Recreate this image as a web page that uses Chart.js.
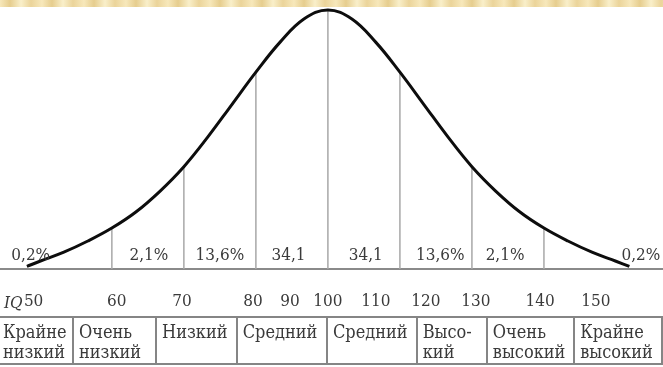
<!DOCTYPE html>
<html>
<head>
<meta charset="utf-8">
<script src="https://cdn.jsdelivr.net/npm/chart.js@4"></script>
<style>
  body { margin: 0; background: #fff; }
  #wrap { position: relative; width: 663px; height: 367px; overflow: hidden; }
  #band {
    position: absolute; left: 0; top: 0; width: 663px; height: 7px; z-index: 2;
    background: repeating-linear-gradient(90deg, #f7e8bb 0px, #e6cd8e 10px, #f9efca 21px, #ebd49a 31px, #f7e8bb 42px);
  }
  canvas { position: absolute; left: 0; top: 0; }
</style>
</head>
<body>
<div id="wrap">
  <div id="band"></div>
  <canvas id="chart" width="663" height="367"></canvas>
</div>
<script>
// Curve: IQ value and height (% of the peak)
const curveX = [37.3, 40, 45, 50, 55, 60, 65, 70, 75, 80, 85, 90, 95, 100,
  105, 110, 115, 120, 125, 130, 135, 140, 145, 150, 155, 160, 162.8];
const curveY = [1, 3, 6.5, 10.8, 15.8, 22, 30, 39.5, 51, 63.5, 76, 87.5, 96.5, 100,
  96.5, 87.5, 76, 63.5, 51, 39.5, 30, 22, 15.8, 10.8, 6.5, 3, 1];

// Vertical dividers under the curve (sigma steps)
const dividerX = [55, 70, 85, 100, 115, 130, 145];
const dividerTop = [15.8, 39.5, 76, 100, 76, 39.5, 15.8];

// Share of population in each band
const shareLabels = ['0,2%', '2,1%', '13,6%', '34,1', '34,1', '13,6%', '2,1%', '0,2%'];
const shareAt = [38.1, 62.7, 77.5, 91.8, 107.9, 123.4, 136.9, 165.2];

// IQ tick labels (placed as in the picture)
const tickLabels = ['50', '60', '70', '80', '90', '100', '110', '120', '130', '140', '150'];
const tickAt = [38.7, 56.0, 69.6, 84.4, 92.1, 100, 110.0, 120.4, 130.8, 144.2, 155.8];

// Category table under the axis
const bandLabels = [['Крайне', 'низкий'], ['Очень', 'низкий'], ['Низкий'], ['Средний'],
  ['Средний'], ['Высо-', 'кий'], ['Очень', 'высокий'], ['Крайне', 'высокий']];
const bandEdges = [31.05, 46.9, 64.2, 81.0, 99.8, 118.5, 133.1, 151.3, 169.6];

const textColor = '#3a3a3a';
const serif = '"DejaVu Serif Condensed", "DejaVu Serif", "Liberation Serif", serif';

// Build dataset points
const curvePoints = curveX.map((x, i) => ({ x: x, y: curveY[i] }));
let dividerPoints = [];
dividerX.forEach((x, i) => {
    dividerPoints.push({ x: x, y: 0 }, { x: x, y: dividerTop[i] }, { x: x, y: null });
});

// Plugin that writes the percentages, the IQ mark and the category table
const labelsPlugin = {
    id: 'iqLabels',
    afterDraw(chart) {
        const ctx = chart.ctx;
        const xs = chart.scales.x;
        ctx.save();
        ctx.fillStyle = textColor;

        ctx.font = '17px ' + serif;
        ctx.textAlign = 'center';
        ctx.textBaseline = 'alphabetic';
        shareLabels.forEach((t, i) => {
            ctx.fillText(t, xs.getPixelForValue(shareAt[i]), 260);
        });

        ctx.font = 'italic 17px ' + serif;
        ctx.textAlign = 'right';
        ctx.fillText('IQ', xs.getPixelForValue(tickAt[0]) - 11, 308);

        // table borders
        ctx.strokeStyle = '#858585';
        ctx.lineWidth = 2;
        ctx.beginPath();
        ctx.moveTo(0, 317); ctx.lineTo(663, 317);
        ctx.moveTo(0, 364); ctx.lineTo(663, 364);
        bandEdges.forEach(v => {
            const px = Math.round(xs.getPixelForValue(v));
            ctx.moveTo(px, 317); ctx.lineTo(px, 364);
        });
        ctx.stroke();

        ctx.font = '18px ' + serif;
        ctx.textAlign = 'left';
        bandLabels.forEach((lines, i) => {
            const left = xs.getPixelForValue(bandEdges[i]) + 6;
            lines.forEach((t, j) => ctx.fillText(t, left, 338 + j * 20));
        });
        ctx.restore();
    }
};

const ctx = document.getElementById('chart').getContext('2d');
new Chart(ctx, {
    type: 'scatter',
    data: {
        datasets: [{
            data: curvePoints,
            showLine: true,
            borderColor: '#0d0d0d',
            borderWidth: 3,
            pointRadius: 0,
            tension: 0.4,
            clip: false
        }, {
            data: dividerPoints,
            showLine: true,
            spanGaps: false,
            borderColor: '#a8a8a8',
            borderWidth: 1.5,
            pointRadius: 0
        }]
    },
    options: {
        responsive: false,
        animation: false,
        devicePixelRatio: 1,
        layout: { padding: { top: 10, left: 0, right: 0, bottom: 0 }, autoPadding: false },
        plugins: { legend: { display: false }, tooltip: { enabled: false } },
        scales: {
            x: {
                type: 'linear',
                min: 31.7,
                max: 169.8,
                grid: { display: false, drawTicks: false },
                border: { display: true, color: '#8a8a8a', width: 2 },
                afterBuildTicks: axis => {
                    axis.ticks = tickAt.map(v => ({ value: v }));
                },
                afterFit: axis => {
                    axis.height = 98;
                    axis.paddingLeft = 0;
                    axis.paddingRight = 0;
                },
                ticks: {
                    autoSkip: false,
                    maxRotation: 0,
                    padding: 22,
                    color: textColor,
                    font: { family: serif, size: 17 },
                    callback: (value, index) => tickLabels[index]
                }
            },
            y: { display: false, min: 0, max: 100 }
        }
    },
    plugins: [labelsPlugin]
});
</script>
</body>
</html>
